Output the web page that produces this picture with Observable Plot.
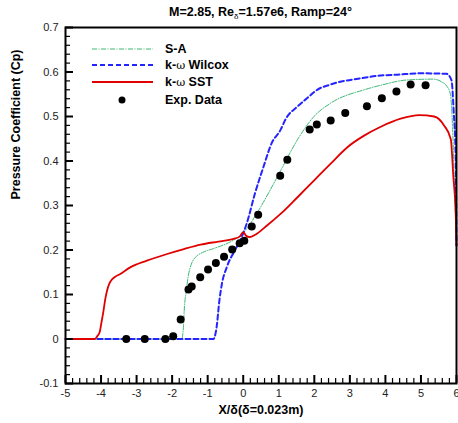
<!DOCTYPE html>
<html><head><meta charset="utf-8">
<script src="https://cdn.jsdelivr.net/npm/d3@7"></script>
<script src="https://cdn.jsdelivr.net/npm/@observablehq/plot@0.6"></script>
<style>body{margin:0;background:#fff} #chart{width:458px;height:423px}</style>
</head><body><div id="chart"></div>
<script>
// ---- data ----
const saX  = [-5, -1.73, -1.68, -1.66, -1.6, -1.55, -1.49, -1.4, -1.31, -1.1, -0.84, -0.37, -0.09, 0.1, 0.38, 0.76, 1.05, 1.52, 1.99, 2.46, 3.4, 3.86, 4.6, 5.34, 5.6, 5.72, 5.83, 5.89, 5.95, 6];
const saY  = [0, 0, 0.03, 0.064, 0.109, 0.14, 0.161, 0.178, 0.186, 0.196, 0.203, 0.218, 0.232, 0.248, 0.282, 0.335, 0.378, 0.447, 0.5, 0.53, 0.56, 0.57, 0.582, 0.584, 0.577, 0.569, 0.55, 0.475, 0.325, 0.21];
const wilX = [-5, -0.84, -0.75, -0.67, -0.6, -0.46, -0.23, -0.04, 0.1, 0.33, 0.57, 0.8, 1.05, 1.2, 1.52, 1.81, 2.08, 2.46, 3.4, 3.86, 4.34, 5.0, 5.72, 5.86, 5.92, 5.98, 6];
const wilY = [0, 0, 0.026, 0.087, 0.124, 0.162, 0.2, 0.23, 0.26, 0.327, 0.387, 0.44, 0.47, 0.495, 0.522, 0.542, 0.56, 0.572, 0.587, 0.592, 0.594, 0.597, 0.596, 0.581, 0.513, 0.4, 0.21];
const sstX = [-5, -4.18, -4.1, -4.04, -3.98, -3.93, -3.88, -3.83, -3.77, -3.72, -3.6, -3.46, -3.18, -2.71, -2.14, -1.67, -1.2, -0.7, -0.27, -0.1, 0.0, 0.08, 0.18, 0.35, 0.67, 1.05, 1.52, 1.99, 2.46, 2.93, 3.4, 3.87, 4.43, 4.95, 5.37, 5.65, 5.84, 5.91, 5.98, 6];
const sstY = [0, 0, 0.007, 0.015, 0.041, 0.064, 0.09, 0.109, 0.124, 0.131, 0.14, 0.146, 0.161, 0.176, 0.191, 0.202, 0.212, 0.219, 0.225, 0.23, 0.24, 0.232, 0.229, 0.235, 0.255, 0.281, 0.318, 0.356, 0.394, 0.431, 0.457, 0.477, 0.495, 0.503, 0.5, 0.48, 0.449, 0.366, 0.276, 0.21];
const expX = [-3.29, -2.77, -2.19, -1.97, -1.76, -1.54, -1.45, -1.21, -0.99, -0.77, -0.54, -0.31, -0.10, 0.03, 0.24, 0.42, 1.04, 1.24, 1.87, 2.07, 2.46, 2.87, 3.48, 3.90, 4.31, 4.71, 5.13];
const expY = [0, 0, 0, 0.006, 0.044, 0.111, 0.118, 0.139, 0.156, 0.171, 0.185, 0.201, 0.215, 0.221, 0.253, 0.279, 0.367, 0.403, 0.471, 0.482, 0.491, 0.508, 0.523, 0.541, 0.556, 0.572, 0.570];

const xTicks = [-5, -4, -3, -2, -1, 0, 1, 2, 3, 4, 5, 6];
const xTickLabels = ["-5", "-4", "-3", "-2", "-1", "0", "1", "2", "3", "4", "5", "6"];
const yTicks = [-0.1, 0, 0.1, 0.2, 0.3, 0.4, 0.5, 0.6, 0.7];
const yTickLabels = ["-0.1", "0", "0.1", "0.2", "0.3", "0.4", "0.5", "0.6", "0.7"];
const xMinor = d3.range(-50, 61, 2).map(v => v / 10).filter(v => !xTicks.includes(v));
const yMinor = d3.range(-10, 71, 2).map(v => v / 100).filter(v => !yTicks.some(t => Math.abs(t - v) < 1e-9));

const seriesNames = ["S-A", "k-ω Wilcox", "k-ω SST", "Exp. Data"];
const titleParts = ["M=2.85, Re", "δ", "=1.57e6, Ramp=24°"];
const xTitle = "X/δ(δ=0.023m)";
const yTitle = "Pressure Coefficient (Cp)";

const colors = {sa: "#3cb878", wil: "#2424ff", sst: "#e00000"};

const toRows = (xs, ys) => xs.map((x, i) => ({x, y: ys[i]}));
const sa = toRows(saX, saY), wil = toRows(wilX, wilY), sst = toRows(sstX, sstY), exp = toRows(expX, expY);

const W = 458, H = 423, mL = 65, mR = 2, mT = 27, mB = 40;
const innerW = W - mL - mR, innerH = H - mT - mB;
const MAJ = 8, MIN = 5;

const plot = Plot.plot({
  width: W, height: H, marginLeft: mL, marginRight: mR, marginTop: mT, marginBottom: mB,
  style: {fontFamily: "'Liberation Sans', Arial, sans-serif", fontSize: "11px", color: "#222", background: "white"},
  x: {domain: [-5, 6]},
  y: {domain: [-0.1, 0.7]},
  marks: [
    Plot.line(sa, {x: "x", y: "y", stroke: colors.sa, strokeWidth: 1, strokeDasharray: "5,1.5,1,1.5", curve: "monotone-x"}),
    Plot.line(wil, {x: "x", y: "y", stroke: colors.wil, strokeWidth: 2, strokeDasharray: "5,3", curve: "monotone-x"}),
    Plot.line(sst, {x: "x", y: "y", stroke: colors.sst, strokeWidth: 1.8, curve: "monotone-x"}),
    Plot.dot(exp, {x: "x", y: "y", r: 4, fill: "black"}),
    Plot.frame({stroke: "black", strokeWidth: 2}),
    // inward ticks along the bottom and left edges, drawn over the frame
    Plot.ruleX(xMinor, {x: d => d, insetTop: innerH - MIN, stroke: "#000", strokeWidth: 1.2}),
    Plot.ruleX(xTicks, {x: d => d, insetTop: innerH - MAJ, stroke: "#000", strokeWidth: 2}),
    Plot.ruleY(yMinor, {y: d => d, insetRight: innerW - MIN, stroke: "#000", strokeWidth: 1.2}),
    Plot.ruleY(yTicks, {y: d => d, insetRight: innerW - MAJ, stroke: "#000", strokeWidth: 2}),
    Plot.axisX({ticks: xTicks, tickSize: 0, tickPadding: 6, tickFormat: d => xTickLabels[xTicks.indexOf(d)], label: null}),
    Plot.axisY({ticks: yTicks, tickSize: 0, tickPadding: 7, tickFormat: d => yTickLabels[yTicks.findIndex(t => Math.abs(t - d) < 1e-9)], label: null}),
    Plot.text([xTitle], {frameAnchor: "bottom", dy: 30, fontWeight: "bold", fontSize: 12.5, fill: "black", text: d => d}),
    Plot.text([yTitle], {frameAnchor: "left", dx: -50, dy: -6, rotate: -90, fontWeight: "bold", fontSize: 12.5, fill: "black", text: d => d})
  ]
});
document.getElementById("chart").appendChild(plot);

// title with subscript
const svg = d3.select(plot);
const title = svg.append("text")
  .attr("x", mL + innerW / 2).attr("y", 16)
  .attr("text-anchor", "middle")
  .attr("font-family", "'Liberation Sans', Arial, sans-serif")
  .attr("font-size", 12.5).attr("font-weight", "bold").attr("fill", "black");
title.append("tspan").text(titleParts[0]);
title.append("tspan").attr("font-size", 8).attr("font-weight", "normal").attr("dy", 3).text(titleParts[1]);
title.append("tspan").attr("dy", -3).text(titleParts[2]);

// legend
const lg = svg.append("g")
  .attr("text-anchor", "start")
  .attr("font-family", "'Liberation Sans', Arial, sans-serif")
  .attr("font-size", 12.5).attr("font-weight", "bold").attr("fill", "black");
const rows = [
  {name: seriesNames[0], stroke: colors.sa, w: 1, dash: "5,1.5,1,1.5"},
  {name: seriesNames[1], stroke: colors.wil, w: 2, dash: "5,3"},
  {name: seriesNames[2], stroke: colors.sst, w: 2, dash: null},
  {name: seriesNames[3], dot: true}
];
const rowY = [49, 65, 82, 100];
rows.forEach((r, i) => {
  const y = rowY[i];
  if (r.dot) {
    lg.append("circle").attr("cx", 122).attr("cy", y).attr("r", 3.5).attr("fill", "black");
  } else {
    lg.append("line").attr("x1", 92).attr("x2", 153).attr("y1", y).attr("y2", y)
      .attr("stroke", r.stroke).attr("stroke-width", r.w).attr("stroke-dasharray", r.dash);
  }
  const t = lg.append("text").attr("x", 165).attr("y", y).attr("dy", "0.35em").attr("text-anchor", "start");
  const parts = r.name.split("ω");
  if (parts.length === 2) {
    t.append("tspan").text(parts[0]);
    t.append("tspan").attr("font-weight", "normal").attr("font-family", "'DejaVu Serif', serif").attr("font-size", 11).text("ω");
    t.append("tspan").text(parts[1]);
  } else {
    t.text(r.name);
  }
});
</script>
</body></html>
